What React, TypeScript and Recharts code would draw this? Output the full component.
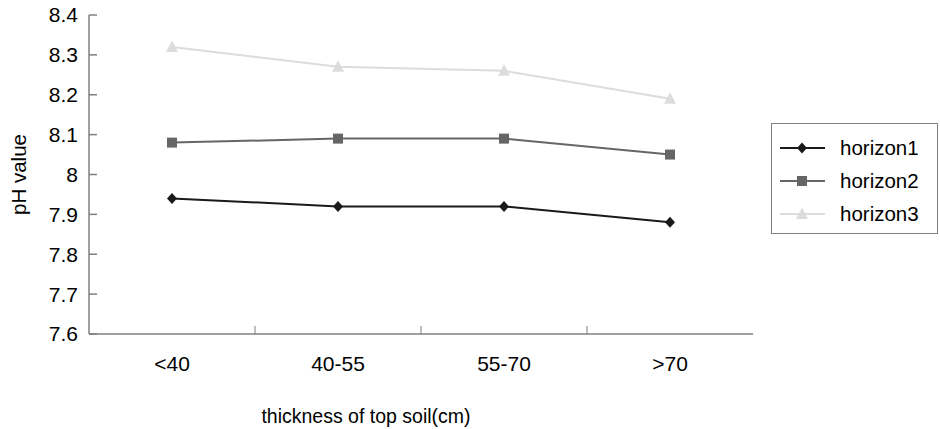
import { LineChart, Line, XAxis, YAxis } from 'recharts';

const categories = ['<40', '40-55', '55-70', '>70'];
const horizon1 = [7.94, 7.92, 7.92, 7.88];
const horizon2 = [8.08, 8.09, 8.09, 8.05];
const horizon3 = [8.32, 8.27, 8.26, 8.19];
const yTicks = [7.6, 7.7, 7.8, 7.9, 8, 8.1, 8.2, 8.3, 8.4];

const data = categories.map((c, i) => ({
    name: c,
    horizon1: horizon1[i],
    horizon2: horizon2[i],
    horizon3: horizon3[i],
}));

const FONT = '"Liberation Sans", Arial, sans-serif';
const AXIS = '#808080';
const FRAME = '#a0a0a0';
const TEXT = '#000';
const W = 940;
const H = 429;
const MARGIN = { top: 15, right: 187, left: 0, bottom: 0 };
const Y_WIDTH = 89;
const BAND = (W - MARGIN.left - MARGIN.right - Y_WIDTH) / categories.length;

const SERIES = [
    { key: 'horizon1', color: '#1a1a1a', shape: 'diamond' },
    { key: 'horizon2', color: '#666666', shape: 'square' },
    { key: 'horizon3', color: '#dcdcdc', shape: 'triangle' },
];

// marker shapes like the old excel ones
const Marker = ({ cx, cy, shape, color }: any) => {
    if (shape === 'diamond') {
        return <polygon points={`${cx},${cy - 5.5} ${cx + 5},${cy} ${cx},${cy + 5.5} ${cx - 5},${cy}`} fill={color} />;
    }
    if (shape === 'square') {
        return <rect x={cx - 5} y={cy - 5} width={10} height={10} fill={color} />;
    }
    return <polygon points={`${cx},${cy - 6.5} ${cx + 6},${cy + 5} ${cx - 6},${cy + 5}`} fill={color} />;
};

const XTick = (props: any) => {
    const { x, y, payload, index } = props;
    const axisY = y - 8;
    return (
        <g>
            {index > 0 && (
                <line x1={x - BAND / 2} x2={x - BAND / 2} y1={axisY} y2={axisY - 8} stroke={AXIS} />
            )}
            <text x={x} y={y + 29} textAnchor="middle" fontSize={21} fontFamily={FONT} fill={TEXT}>
                {payload.value}
            </text>
        </g>
    );
};

const LegendBox = () => (
    <div
        style={{
            position: 'absolute',
            left: 771,
            top: 123,
            border: `1.5px solid ${AXIS}`,
            width: 167,
            height: 111,
            boxSizing: 'border-box',
            padding: '7px 0 0 8px',
            fontFamily: FONT,
            fontSize: 20.5,
            color: TEXT,
            background: '#fff',
        }}
    >
        {SERIES.map((s) => (
            <div key={s.key} style={{ display: 'flex', alignItems: 'center', height: 33 }}>
                <svg width={45} height={16} style={{ marginRight: 15, flexShrink: 0 }}>
                    <line x1={0} x2={45} y1={8} y2={8} stroke={s.color} strokeWidth={2} />
                    <Marker cx={22} cy={8} shape={s.shape} color={s.color} />
                </svg>
                <span>{s.key}</span>
            </div>
        ))}
    </div>
);

export default function App() {
    return (
        <div style={{ position: 'absolute', left: 0, top: 0, width: W, height: H, background: '#fff' }}>
            <LineChart width={W} height={H} data={data} margin={MARGIN}>
                <XAxis
                    dataKey="name"
                    height={95}
                    stroke={AXIS}
                    strokeWidth={1.5}
                    tickLine={false}
                    tick={<XTick />}
                    interval={0}
                    padding={{ left: BAND / 2, right: BAND / 2 }}
                    label={(p: any) => (
                        <text
                            x={366}
                            y={p.viewBox.y + 89}
                            textAnchor="middle"
                            fontSize={19.5}
                            fontFamily={FONT}
                            fill={TEXT}
                        >
                            thickness of top soil(cm)
                        </text>
                    )}
                />
                <XAxis xAxisId="top" orientation="top" dataKey="name" height={0} stroke={FRAME} strokeWidth={1.5} tick={false} tickLine={false} />
                <YAxis
                    domain={[7.6, 8.4]}
                    ticks={yTicks}
                    width={Y_WIDTH}
                    stroke={AXIS}
                    strokeWidth={1.5}
                    tickSize={-8}
                    tickMargin={19}
                    interval={0}
                    allowDataOverflow
                    tick={{ fontSize: 21, fontFamily: FONT, fill: TEXT }}
                    label={(p: any) => (
                        <text
                            x={26}
                            y={p.viewBox.y + p.viewBox.height / 2}
                            transform={`rotate(-90, 26, ${p.viewBox.y + p.viewBox.height / 2})`}
                            textAnchor="middle"
                            fontSize={20.5}
                            fontFamily={FONT}
                            fill={TEXT}
                        >
                            pH value
                        </text>
                    )}
                />
                <YAxis yAxisId="right" orientation="right" width={0} stroke={FRAME} strokeWidth={1.5} tick={false} tickLine={false} domain={[7.6, 8.4]} />
                {SERIES.map((s) => (
                    <Line
                        key={s.key}
                        dataKey={s.key}
                        stroke={s.color}
                        strokeWidth={2}
                        isAnimationActive={false}
                        dot={(p: any) => <Marker key={`${s.key}-${p.index}`} cx={p.cx} cy={p.cy} shape={s.shape} color={s.color} />}
                        activeDot={false}
                    />
                ))}
            </LineChart>
            <LegendBox />
        </div>
    );
}
